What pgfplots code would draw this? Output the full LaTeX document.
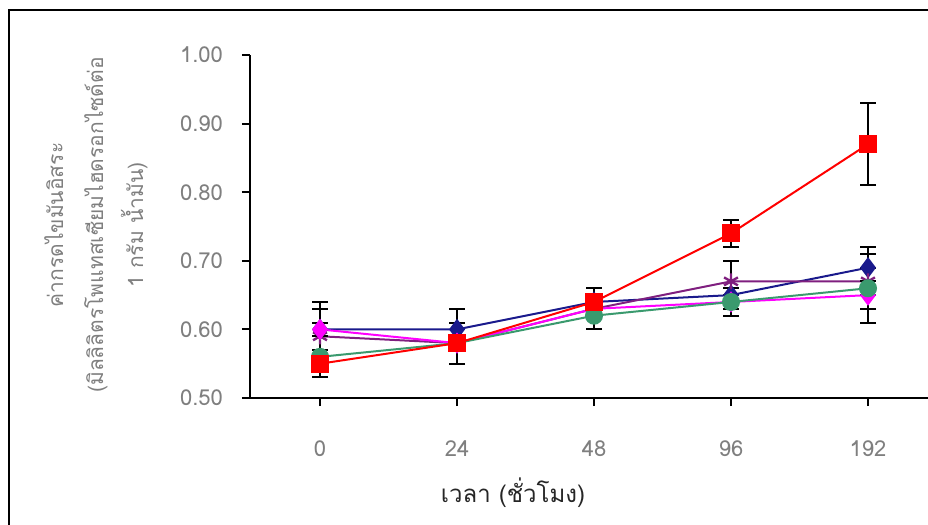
\documentclass[border=0pt]{standalone}
\usepackage{pgfplots}
\pgfplotsset{compat=1.18}
\usepackage{fontspec}
\setmainfont[Script=Thai]{Loma}
\newfontfamily\thaifont[Script=Thai]{Loma}
\definecolor{cnavy}{HTML}{1A1A8C}
\definecolor{cred}{HTML}{FF0000}
\definecolor{cpurple}{HTML}{7F1F7F}
\definecolor{cmag}{HTML}{FF00FF}
\definecolor{cteal}{HTML}{3A9A6E}
\definecolor{tgray}{HTML}{7F7F7F}
\begin{document}
\begin{tikzpicture}
\useasboundingbox (0,0) rectangle (464pt,-262.5pt);
\draw[line width=1.4pt] (4.5pt,-5pt) rectangle (700pt,-500pt);
\begin{axis}[
  at={(125pt,-199pt)}, anchor=south west,
  scale only axis, width=350.1pt, height=171.5pt,
  xmin=-0.511, xmax=4.6, ymin=0.5, ymax=1.0,
  clip=false,
  axis x line*=bottom, axis y line*=left,
  axis line style={line width=1pt, black, -},
  xtick={0,1,2,3,4}, xticklabels={0,24,48,96,192},
  ytick={0.5,0.6,0.7,0.8,0.9,1.0},
  yticklabel style={/pgf/number format/fixed,/pgf/number format/fixed zerofill,/pgf/number format/precision=2, xshift=-6pt},
  /pgf/number format/assume math mode=true,
  tick align=outside, major tick length=4pt,
  tick style={line width=1pt, black},
  ticklabel style={font=\fontsize{11}{13}\selectfont, text=tgray},
  xticklabel style={yshift=-14pt},
  every axis plot/.append style={line width=1pt},
  error bars/error bar style={line width=1pt, black},
  error bars/error mark options={rotate=90, mark size=4pt, line width=1pt, black},
]
% navy diamond
\addplot[cnavy, mark=diamond*, mark size=4.5pt, mark options={solid, fill=cnavy}, error bars/.cd, y dir=both, y explicit]
 coordinates {(0,0.60) +- (0,0.04) (1,0.60) +- (0,0.03) (2,0.64) +- (0,0.01) (3,0.65) +- (0,0.01) (4,0.69) +- (0,0.03)};
% purple star
\addplot[cpurple, mark=asterisk, mark size=4pt, mark options={solid, line width=1.2pt}, error bars/.cd, y dir=both, y explicit]
 coordinates {(0,0.59) +- (0,0.04) (1,0.58) +- (0,0.01) (2,0.63) +- (0,0.01) (3,0.67) +- (0,0.03) (4,0.67) +- (0,0.04)};
% magenta
\addplot[cmag, mark=diamond*, mark size=4.5pt, mark options={solid, fill=cmag}, error bars/.cd, y dir=both, y explicit]
 coordinates {(0,0.60) +- (0,0.01) (1,0.58) +- (0,0.01) (2,0.63) +- (0,0.01) (3,0.64) +- (0,0.01) (4,0.65) +- (0,0.04)};
% teal circle
\addplot[cteal, mark=*, mark size=4pt, mark options={solid, fill=cteal}, error bars/.cd, y dir=both, y explicit]
 coordinates {(0,0.56) +- (0,0.01) (1,0.58) +- (0,0.01) (2,0.62) +- (0,0.02) (3,0.64) +- (0,0.02) (4,0.66) +- (0,0.01)};
% red square
\addplot[cred, mark=square*, mark size=4pt, mark options={solid, fill=cred}, error bars/.cd, y dir=both, y explicit]
 coordinates {(0,0.55) +- (0,0.02) (1,0.58) +- (0,0.03) (2,0.64) +- (0,0.02) (3,0.74) +- (0,0.02) (4,0.87) +- (0,0.06)};
\end{axis}
\node[font=\fontsize{12}{14}\selectfont, text=black!85] at (256.5pt,-246.5pt) {เวลา (ชั่วโมง)};
\node[rotate=90, align=center, font=\fontsize{10.5}{20}\selectfont, text=tgray] at (48pt,-112.5pt)
 {ค่ากรดไขมันอิสระ\\(มิลลิลิตรโพแทสเซียมไฮดรอกไซด์ต่อ\\1 กรัม น้ำมัน)};
\end{tikzpicture}
\end{document}
